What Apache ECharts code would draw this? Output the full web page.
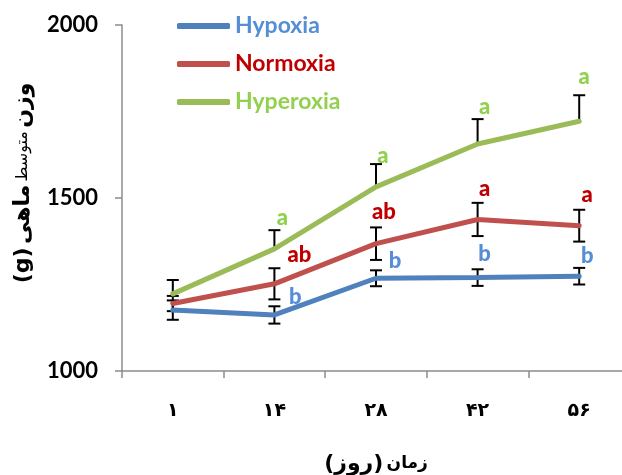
<!DOCTYPE html>
<html>
<head>
<meta charset="utf-8">
<script src="https://cdn.jsdelivr.net/npm/echarts@6/dist/echarts.min.js"></script>
<style>html,body{margin:0;padding:0;background:#fff;overflow:hidden}#c{width:622px;height:475px}</style>
</head>
<body>
<div id="c"></div>
<script>
// ---- data ----
const categories = ['۱', '۱۴', '۲۸', '۴۲', '۵۶'];
const yTicks = [1000, 1500, 2000];
const hypoxia   = [1176, 1162, 1268, 1270, 1274];
const normoxia  = [1195, 1252, 1368, 1438, 1420];
const hyperoxia = [1223, 1353, 1532, 1656, 1722];
const errHypoxiaPlus   = [28, 25, 23, 24, 24];
const errHypoxiaMinus  = [28, 25, 23, 24, 24];
const errNormoxiaPlus  = [22, 45, 47, 48, 46];
const errNormoxiaMinus = [22, 45, 47, 48, 46];
const errHyperoxiaPlus  = [40, 54, 66, 72, 75];
const errHyperoxiaMinus = [0, 0, 0, 0, 0];
const lettersHypoxia   = ['', 'b', 'b', 'b', 'b'];
const lettersNormoxia  = ['', 'ab', 'ab', 'a', 'a'];
const lettersHyperoxia = ['', 'a', 'a', 'a', 'a'];
const seriesNames = ['Hypoxia', 'Normoxia', 'Hyperoxia'];

// ---- styles ----
const lineColors  = ['#4F81BD', '#C0504D', '#9BBB59'];
const textColors  = ['#558ED5', '#C00000', '#92D050'];
const latin = 'Lato, "Open Sans", sans-serif';
const arabic = '"DejaVu Sans", sans-serif';
// per-point label nudges [dx, gap above error-bar top]
const labelNudge = [
  [[0,0],[21,2],[19,2],[7,8],[8,5]],
  [[0,0],[25,6],[8,9],[7,7],[8,8]],
  [[0,0],[8,5],[7,1],[7,5],[5,11]]
];

const means = [hypoxia, normoxia, hyperoxia];
const plus = [errHypoxiaPlus, errNormoxiaPlus, errHyperoxiaPlus];
const minus = [errHypoxiaMinus, errNormoxiaMinus, errHyperoxiaMinus];
const letters = [lettersHypoxia, lettersNormoxia, lettersHyperoxia];

const chart = echarts.init(document.getElementById('c'), null, {renderer: 'canvas'});

function makeErr(s) {
  return {
    type: 'custom',
    name: seriesNames[s] + ' err',
    z: 1,
    silent: true,
    data: categories.map((c, i) => [i, means[s][i], plus[s][i], minus[s][i]]),
    renderItem: function (params, api) {
      const i = api.value(0), m = api.value(1), p = api.value(2), n = api.value(3);
      const top = api.coord([i, m + p]);
      const bot = api.coord([i, m - n]);
      const cap = 6;
      const children = [
        {type: 'line', shape: {x1: top[0], y1: top[1], x2: bot[0], y2: bot[1]}, style: {stroke: '#000', lineWidth: 2}},
        {type: 'line', shape: {x1: top[0] - cap, y1: top[1], x2: top[0] + cap, y2: top[1]}, style: {stroke: '#000', lineWidth: 2}}
      ];
      if (n > 0) {
        children.push({type: 'line', shape: {x1: bot[0] - cap, y1: bot[1], x2: bot[0] + cap, y2: bot[1]}, style: {stroke: '#000', lineWidth: 2}});
      }
      const t = letters[s][params.dataIndex];
      if (t) {
        const nd = labelNudge[s][params.dataIndex];
        children.push({
          type: 'text',
          z2: 10,
          style: {
            text: t, x: top[0] + nd[0], y: top[1] - nd[1] + 4,
            align: 'center', verticalAlign: 'bottom',
            fill: textColors[s], font: '900 22px ' + latin
          }
        });
      }
      return {type: 'group', children: children};
    }
  };
}

const lineSeries = seriesNames.map((nm, s) => ({
  type: 'line',
  name: nm,
  data: means[s],
  symbol: 'none',
  z: 3,
  lineStyle: {width: 5, color: lineColors[s], cap: 'round'},
  itemStyle: {color: lineColors[s]}
}));

chart.setOption({
  animation: false,
  backgroundColor: '#fff',
  grid: {left: 122, top: 25, width: 508, height: 346, containLabel: false, outerBoundsMode: 'none'},
  legend: {
    orient: 'vertical',
    left: 172, top: 9,
    icon: 'roundRect',
    itemWidth: 53, itemHeight: 6,
    itemGap: 14,
    textStyle: {fontFamily: latin, fontWeight: 'bold', fontSize: 23, lineHeight: 24, padding: [0,0,0,0]},
    data: seriesNames.map((nm, s) => ({name: nm, textStyle: {color: textColors[s]}}))
  },
  xAxis: {
    type: 'category',
    data: categories,
    boundaryGap: true,
    axisLine: {lineStyle: {color: '#8c8c8c', width: 1.5}},
    axisTick: {show: true, length: 7, alignWithLabel: false, lineStyle: {color: '#8c8c8c', width: 1.5}},
    axisLabel: {margin: 31, color: '#000', fontFamily: arabic, fontWeight: 'bold', fontSize: 19},
    name: '{b|(روز)} {n|زمان}',
    nameLocation: 'middle',
    nameGap: 82,
    nameTextStyle: {
      rich: {
        b: {fontFamily: arabic, fontWeight: 'bold', fontSize: 22, color: '#000'},
        n: {fontFamily: arabic, fontWeight: 'bold', fontSize: 17, color: '#000'}
      }
    }
  },
  yAxis: {
    type: 'value',
    min: 1000, max: 2000, interval: 500,
    splitLine: {show: false},
    axisLine: {show: true, lineStyle: {color: '#8c8c8c', width: 1.5}},
    axisTick: {show: true, length: 7, lineStyle: {color: '#8c8c8c', width: 1.5}},
    axisLabel: {
      margin: 24, color: '#000', fontFamily: latin, fontWeight: 'bold', fontSize: 22,
      formatter: v => yTicks.includes(v) ? String(v) : ''
    },
    name: '{b|(g)} {b|ماهی} {n|متوسط} {b|وزن}',
    nameLocation: 'middle',
    nameRotate: 90,
    nameGap: 88,
    nameTextStyle: {
      padding: [0, 0, 0, 30],
      rich: {
        b: {fontFamily: arabic, fontWeight: 'bold', fontSize: 22, color: '#000'},
        n: {fontFamily: arabic, fontWeight: 'normal', fontSize: 16, color: '#000'}
      }
    }
  },
  series: [0, 1, 2].map(makeErr).concat(lineSeries)
});
</script>
</body>
</html>
